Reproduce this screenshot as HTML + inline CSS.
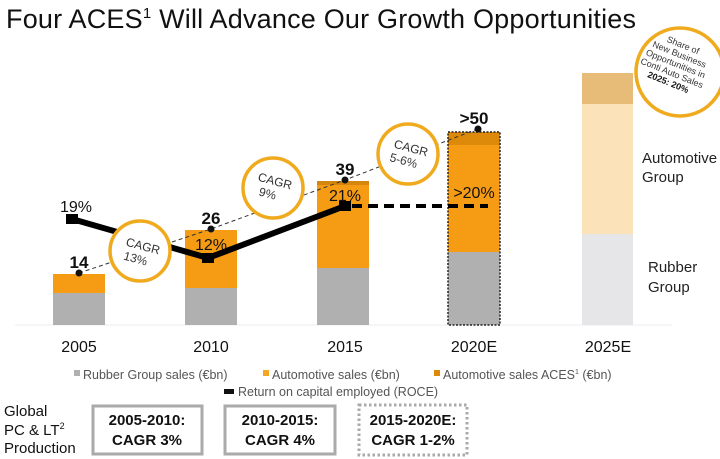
<!DOCTYPE html>
<html><head><meta charset="utf-8"><style>
body{margin:0;background:#fff}
svg{display:block;font-family:"Liberation Sans",Arial,sans-serif}
</style></head><body>
<svg width="720" height="459" viewBox="0 0 720 459">
<text x="6" y="28" font-size="27" fill="#111" textLength="630">Four ACES<tspan font-size="15" dy="-10">1</tspan><tspan dy="10"> Will Advance Our Growth Opportunities</tspan></text>
<line x1="15" y1="325" x2="672" y2="325" stroke="#eee" stroke-width="1"/>
<rect x="53" y="293" width="52" height="32" fill="#b0b0b0"/>
<rect x="53" y="274" width="52" height="19" fill="#f59c14"/>
<rect x="185" y="288" width="52" height="37" fill="#b0b0b0"/>
<rect x="185" y="230" width="52" height="58" fill="#f59c14"/>
<rect x="317" y="268" width="52" height="57" fill="#b0b0b0"/>
<rect x="317" y="185" width="52" height="83" fill="#f59c14"/>
<rect x="317" y="181" width="52" height="4" fill="#d4860e"/>
<rect x="448" y="252" width="52" height="73" fill="#b0b0b0"/>
<rect x="448" y="145" width="52" height="107" fill="#f59c14"/>
<rect x="448" y="132" width="52" height="13" fill="#dd8a0a"/>
<rect x="448" y="132" width="52" height="193" fill="none" stroke="#222" stroke-width="1.5" stroke-dasharray="2,1.5"/>
<rect x="582" y="234" width="51" height="91" fill="#e6e6e8"/>
<rect x="582" y="104" width="51" height="130" fill="#fbe2b9"/>
<rect x="582" y="73" width="51" height="31" fill="#e6bc78"/>
<polyline points="79,273 211,229 345,180 480,128" fill="none" stroke="#333" stroke-width="1" stroke-dasharray="4,3"/>
<circle cx="79" cy="273" r="3.5" fill="#111"/><circle cx="211" cy="229" r="3.5" fill="#111"/><circle cx="345" cy="180" r="3.5" fill="#111"/><circle cx="478" cy="129" r="3.5" fill="#111"/>
<polyline points="72,219 208,258 345,206" fill="none" stroke="#000" stroke-width="6"/>
<rect x="66" y="214" width="12" height="10" fill="#000"/><rect x="202" y="253" width="12" height="10" fill="#000"/><rect x="339" y="201" width="12" height="10" fill="#000"/>
<line x1="352" y1="206" x2="488" y2="206" stroke="#000" stroke-width="4" stroke-dasharray="10,6"/>
<g font-weight="bold" font-size="17" fill="#111" text-anchor="middle">
<text x="79" y="268">14</text><text x="211" y="224">26</text><text x="345" y="175">39</text><text x="474" y="124">&gt;50</text></g>
<g font-size="16" fill="#111" text-anchor="middle">
<text x="76" y="212">19%</text><text x="211" y="250">12%</text><text x="345" y="201">21%</text><text x="474" y="198">&gt;20%</text></g>
<g fill="#fff" stroke="#f0aa1e" stroke-width="3.5">
<circle cx="140" cy="251" r="30"/><circle cx="273" cy="188" r="30"/><circle cx="408" cy="154" r="30"/><circle cx="680" cy="72" r="44"/></g>
<g font-size="12" fill="#333" text-anchor="middle">
<text transform="translate(142,250) rotate(15)">CAGR<tspan x="-4" dy="14">13%</tspan></text>
<text transform="translate(274,185) rotate(15)">CAGR<tspan x="-4" dy="14">9%</tspan></text>
<text transform="translate(410,152) rotate(15)">CAGR<tspan x="-4" dy="14">5-6%</tspan></text>
</g>
<g font-size="9" fill="#333" text-anchor="middle" transform="translate(682,48) rotate(22)">
<text x="0" y="0">Share of</text><text x="0" y="10">New Business</text><text x="0" y="20">Opportunities in</text><text x="0" y="30">Conti Auto Sales</text><text x="0" y="40" font-weight="bold" fill="#111">2025: 20%</text></g>
<g font-size="15" fill="#222"><text x="642" y="163">Automotive</text><text x="642" y="182">Group</text>
<text x="648" y="272">Rubber</text><text x="648" y="292">Group</text></g>
<g font-size="16" fill="#111" text-anchor="middle"><text x="79" y="352">2005</text><text x="211" y="352">2010</text><text x="345" y="352">2015</text><text x="474" y="352">2020E</text><text x="608" y="352">2025E</text></g>
<g font-size="12.5" fill="#555">
<rect x="74" y="370" width="6" height="6" fill="#b0b0b0"/><text x="83" y="379">Rubber Group sales (€bn)</text>
<rect x="263" y="370" width="6" height="6" fill="#f5a623"/><text x="272" y="379">Automotive sales (€bn)</text>
<rect x="434" y="370" width="6" height="6" fill="#dd8a0a"/><text x="443" y="379">Automotive sales ACES<tspan font-size="7" dy="-5">1</tspan><tspan dy="5"> (€bn)</tspan></text>
<rect x="224" y="389" width="10" height="5" fill="#111"/><text x="238" y="396">Return on capital employed (ROCE)</text></g>
<g font-size="15" fill="#111"><text x="4" y="416">Global</text><text x="4" y="435">PC &amp; LT<tspan font-size="9" dy="-6">2</tspan></text><text x="4" y="453">Production</text></g>
<rect x="93" y="406" width="109" height="48" fill="none" stroke="#aaa" stroke-width="3"/>
<rect x="225" y="406" width="110" height="48" fill="none" stroke="#aaa" stroke-width="3"/>
<rect x="359" y="405" width="108" height="50" fill="none" stroke="#aaa" stroke-width="3" stroke-dasharray="2.5,2.5"/>
<g font-size="15" font-weight="bold" fill="#111" text-anchor="middle">
<text x="147" y="425">2005-2010:</text><text x="147" y="445">CAGR 3%</text>
<text x="280" y="425">2010-2015:</text><text x="280" y="445">CAGR 4%</text>
<text x="413" y="425">2015-2020E:</text><text x="413" y="445">CAGR 1-2%</text></g>
</svg>
</body></html>
